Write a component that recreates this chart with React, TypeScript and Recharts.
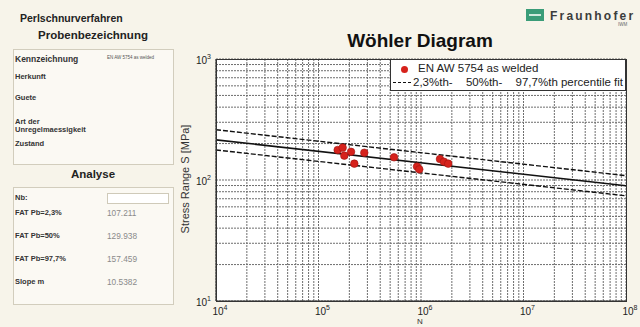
import React from "react";
import { ScatterChart, Scatter, XAxis, YAxis, CartesianGrid } from "recharts";

// cycles N (log grid: every 1..9 x decade)
const xTicks = [
  1e4, 2e4, 3e4, 4e4, 5e4, 6e4, 7e4, 8e4, 9e4,
  1e5, 2e5, 3e5, 4e5, 5e5, 6e5, 7e5, 8e5, 9e5,
  1e6, 2e6, 3e6, 4e6, 5e6, 6e6, 7e6, 8e6, 9e6,
  1e7, 2e7, 3e7, 4e7, 5e7, 6e7, 7e7, 8e7, 9e7,
  1e8,
];
const yTicks = [10, 20, 30, 40, 50, 60, 70, 80, 90, 100, 200, 300, 400, 500, 600, 700, 800, 900, 1000];

// test results EN AW 5754 as welded
const specimens = [
  { n: 153800, s: 177 },
  { n: 172000, s: 185 },
  { n: 178600, s: 159 },
  { n: 207700, s: 171 },
  { n: 223600, s: 136.5 },
  { n: 279700, s: 168 },
  { n: 545700, s: 154 },
  { n: 914000, s: 129 },
  { n: 962000, s: 122.5 },
  { n: 1531000, s: 149 },
  { n: 1675000, s: 141.6 },
  { n: 1845000, s: 136.5 },
];

// percentile fit lines (end points at 1e4 and 1e8)
const fit977 = [{ n: 1e4, s: 260.3 }, { n: 1e8, s: 108.6 }];
const fit50 = [{ n: 1e4, s: 214.8 }, { n: 1e8, s: 89.7 }];
const fit23 = [{ n: 1e4, s: 177.2 }, { n: 1e8, s: 74.0 }];

const probeLabels = ["Kennzeichnung", "Herkunft", "Guete", "Art der", "Unregelmaessigkeit", "Zustand"];
const analyseLabels = ["FAT Pb=2,3%", "FAT Pb=50%", "FAT Pb=97,7%", "Slope m"];
const analyseValues = ["107.211", "129.938", "157.459", "10.5382"];

const FONT = "'Liberation Sans', Arial, sans-serif";
const BG = "#f7f4ea";

const isDecade = (v: number) => Math.abs(Math.log10(v) - Math.round(Math.log10(v))) < 1e-6;

const XTick = (props: any) => {
  const { x, y, payload } = props;
  if (!isDecade(payload.value)) return <g />;
  const e = Math.round(Math.log10(payload.value));
  return (
    <text x={x + 4} y={y + 6} textAnchor="middle" fontSize={10} fill="#222" fontFamily={FONT}>
      10<tspan dy={-5} fontSize={7}>{e}</tspan>
    </text>
  );
};

const YTick = (props: any) => {
  const { x, y, payload } = props;
  if (!isDecade(payload.value)) return <g />;
  const e = Math.round(Math.log10(payload.value));
  return (
    <text x={x + 3} y={y + 5} textAnchor="end" fontSize={10} fill="#222" fontFamily={FONT}>
      10<tspan dy={-5} fontSize={7}>{e}</tspan>
    </text>
  );
};

const noShape = () => <g />;
const dot = (p: any) => (
  <circle cx={p.cx} cy={p.cy} r={3.8} fill="#d6221c" stroke="#9e1410" strokeWidth={0.6} />
);

const boxStyle: React.CSSProperties = {
  position: "absolute",
  left: 13,
  width: 159,
  border: "1px solid #d2cdbd",
  background: "#fbf9f3",
};

export default function App() {
  const probeY = [59, 77, 98, 122, 130, 144];
  const analyseY = [213, 236, 259, 282];
  return (
    <div style={{ position: "absolute", left: 0, top: 0, width: 640, height: 327, background: BG, overflow: "hidden", fontFamily: FONT }}>
      {/* left panel */}
      <div style={{ position: "absolute", left: 20, top: 12, fontSize: 10.5, fontWeight: "bold", color: "#222" }}>Perlschnurverfahren</div>
      <div style={{ position: "absolute", left: 13, width: 160, top: 29, fontSize: 11.5, fontWeight: "bold", color: "#222", textAlign: "center" }}>Probenbezeichnung</div>
      <div style={{ ...boxStyle, top: 49, height: 114 }} />
      {probeLabels.map((l, i) => (
        <div key={l} style={{ position: "absolute", left: 15, top: probeY[i] - 5, fontSize: i === 0 ? 8.5 : 7.5, fontWeight: "bold", color: "#333", lineHeight: "10px" }}>{l}</div>
      ))}
      <div style={{ position: "absolute", left: 107, top: 55, fontSize: 4.5, color: "#555" }}>EN AW 5754 as welded</div>
      <div style={{ position: "absolute", left: 13, width: 160, top: 168, fontSize: 11.5, fontWeight: "bold", color: "#222", textAlign: "center" }}>Analyse</div>
      <div style={{ ...boxStyle, top: 187, height: 116 }} />
      <div style={{ position: "absolute", left: 15, top: 193, fontSize: 7.5, fontWeight: "bold", color: "#333" }}>Nb:</div>
      <div style={{ position: "absolute", left: 107, top: 193, width: 60, height: 9, border: "1px solid #cfcab9", background: "#fff" }} />
      {analyseLabels.map((l, i) => (
        <React.Fragment key={l}>
          <div style={{ position: "absolute", left: 15, top: analyseY[i] - 5, fontSize: 7.5, fontWeight: "bold", color: "#333", lineHeight: "10px" }}>{l}</div>
          <div style={{ position: "absolute", left: 107, top: analyseY[i] - 5, fontSize: 8.3, color: "#8a8a8a", lineHeight: "10px" }}>{analyseValues[i]}</div>
        </React.Fragment>
      ))}

      {/* header */}
      <div style={{ position: "absolute", left: 526, top: 9, width: 18, height: 12, background: "#3a9c78" }}>
        <div style={{ position: "absolute", left: 3, top: 5, width: 12, height: 1.5, background: "#cfe9dd" }} />
      </div>
      <div style={{ position: "absolute", left: 550, top: 9, fontSize: 12, fontWeight: "bold", letterSpacing: 2.2, color: "#3c3c3c", whiteSpace: "nowrap" }}>Fraunhofer</div>
      <div style={{ position: "absolute", left: 618, top: 22, fontSize: 4.5, color: "#666" }}>IWM</div>
      <div style={{ position: "absolute", left: 320, width: 200, top: 30, fontSize: 19, fontWeight: "bold", color: "#111", textAlign: "center", whiteSpace: "nowrap" }}>Wöhler Diagram</div>

      {/* y label */}
      <div style={{ position: "absolute", left: 185, top: 179, transform: "translate(-50%, -50%) rotate(-90deg)", fontSize: 11, color: "#333", whiteSpace: "nowrap" }}>Stress Range S [MPa]</div>
      <div style={{ position: "absolute", left: 417, top: 318, fontSize: 8, color: "#333", lineHeight: "8px" }}>N</div>

      <div style={{ position: "absolute", left: 0, top: 0 }}>
        <ScatterChart width={640} height={327} margin={{ top: 59, right: 14, left: 186, bottom: 2 }}>
          <CartesianGrid fill="#ffffff" stroke="#6e6e6e" strokeDasharray="2 1" />
          <XAxis
            dataKey="n"
            type="number"
            scale="log"
            domain={[1e4, 1e8]}
            ticks={xTicks}
            interval={0}
            allowDataOverflow
            height={24}
            tickLine={false}
            axisLine={{ stroke: "#333" }}
            tick={<XTick />}
          />
          <YAxis
            dataKey="s"
            type="number"
            scale="log"
            domain={[10, 1000]}
            ticks={yTicks}
            interval={0}
            allowDataOverflow
            width={30}
            tickLine={false}
            axisLine={{ stroke: "#333" }}
            tick={<YTick />}
          />
          <Scatter data={fit977} shape={noShape} line={{ stroke: "#111", strokeWidth: 1.4, strokeDasharray: "5 2" }} isAnimationActive={false} />
          <Scatter data={fit50} shape={noShape} line={{ stroke: "#111", strokeWidth: 1.6 }} isAnimationActive={false} />
          <Scatter data={fit23} shape={noShape} line={{ stroke: "#111", strokeWidth: 1.4, strokeDasharray: "5 2" }} isAnimationActive={false} />
          <Scatter data={specimens} shape={dot} isAnimationActive={false} />
        </ScatterChart>
      </div>

      {/* plot frame */}
      <div style={{ position: "absolute", left: 216, top: 59, width: 409, height: 241, border: "1px solid #333", pointerEvents: "none" }} />

      {/* legend */}
      <div style={{ position: "absolute", left: 390, top: 59, width: 234, height: 30, background: "#fff", border: "1px solid #333", fontSize: 11.5, color: "#222" }}>
        <div style={{ position: "absolute", left: 10, top: 6, width: 7, height: 7, borderRadius: "50%", background: "#d6221c" }} />
        <div style={{ position: "absolute", left: 27, top: 2, whiteSpace: "nowrap" }}>EN AW 5754 as welded</div>
        <div style={{ position: "absolute", left: 2, top: 22, width: 18, borderTop: "1.5px dashed #111" }} />
        <div style={{ position: "absolute", left: 22, top: 16, width: 210, display: "flex", justifyContent: "space-between", whiteSpace: "nowrap" }}>
          <span>2,3%th-</span>
          <span>50%th-</span>
          <span>97,7%th percentile fit</span>
        </div>
      </div>
    </div>
  );
}
